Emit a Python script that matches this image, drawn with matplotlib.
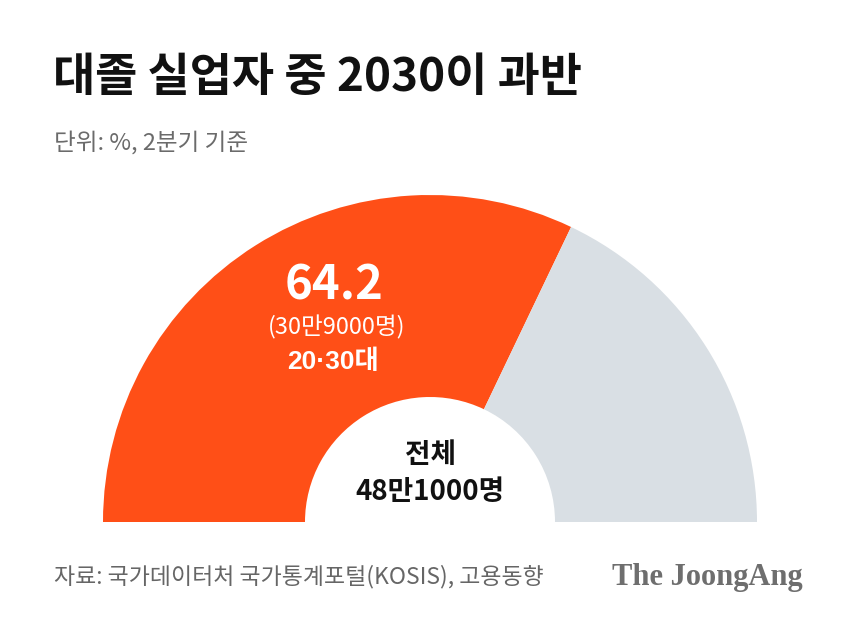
import matplotlib
matplotlib.use("Agg")
import matplotlib.pyplot as plt

plt.rcParams['font.family'] = ['Noto Sans CJK KR', 'DejaVu Sans']

# Data
categories = ["20·30대", "기타"]
shares = [64.2, 35.8]
counts_label = "(30만9000명)"
total_label = "48만1000명"
colors = ["#FF4F17", "#D9DFE4"]

title = "대졸 실업자 중 2030이 과반"
subtitle = "단위: %, 2분기 기준"
source = "자료: 국가데이터처 국가통계포털(KOSIS), 고용동향"
brand = "The JoongAng"

W, H = 860, 626
fig = plt.figure(figsize=(W / 100, H / 100), dpi=100)
fig.patch.set_facecolor("white")
ax = fig.add_axes([0, 0, 1, 1])

cx, cy = 430, H - 522
R, r = 327, 125

# half donut: add hidden half
vals = shares + [sum(shares)]
ax.pie(vals, colors=colors + ["none"], startangle=180, counterclock=False,
       radius=R, center=(cx, cy), wedgeprops=dict(width=R - r, linewidth=0),
       frame=True)
ax.set_xlim(0, W)
ax.set_ylim(0, H)
ax.set_aspect("equal")
ax.axis("off")

def py(y):
    return H - y

ax.text(53, py(78), title, fontsize=33, fontweight="heavy", color="#111111",
        ha="left", va="center")
ax.text(54, py(143), subtitle, fontsize=17, color="#6b6b6b", ha="left", va="center")

ax.text(334, py(285), f"{shares[0]}", fontsize=34, fontweight="bold", color="white",
        ha="center", va="center")
ax.text(337, py(327), counts_label, fontsize=17, color="white", ha="center", va="center")
ax.text(333, py(362), categories[0], fontsize=19, fontweight="bold", color="white",
        ha="center", va="center", family=["Liberation Sans", "Noto Sans CJK KR"])

ax.text(cx, py(455), "전체", fontsize=20, fontweight="bold", color="#111111",
        ha="center", va="center")
ax.text(cx, py(492), total_label, fontsize=20, fontweight="bold", color="#111111",
        ha="center", va="center")

ax.text(54, py(577), source, fontsize=16.5, color="#666666", ha="left", va="center")
ax.text(803, py(577), brand, fontsize=22, fontweight="bold", color="#6e6e6e",
        ha="right", va="center", family=["Liberation Serif"])

fig.savefig("out.png", dpi=100, facecolor="white")
